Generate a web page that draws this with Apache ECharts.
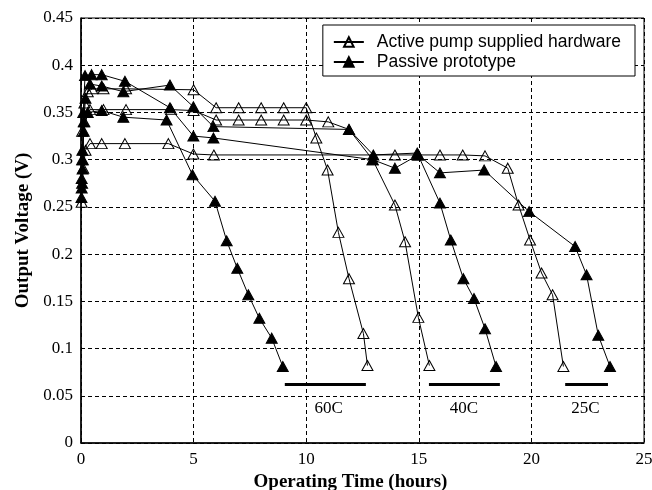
<!DOCTYPE html>
<html>
<head>
<meta charset="utf-8">
<script src="https://cdn.jsdelivr.net/npm/echarts@6/dist/echarts.min.js"></script>
<style>
  html, body { margin: 0; padding: 0; background: #fff; }
  #chart { width: 652px; height: 490px; }
</style>
</head>
<body>
<div id="chart"></div>
<script>
// [hours, volts]
const active60 = [[0.05,0.33],[0.15,0.36],[0.3,0.372],[0.5,0.375],[1,0.375],[2,0.375],[5,0.374],[6,0.355],[7,0.355],[8,0.355],[9,0.355],[10,0.355],[10.45,0.323],[10.95,0.289],[11.43,0.223],[11.9,0.174],[12.54,0.116],[12.72,0.082]];
const active40 = [[0.05,0.3],[0.15,0.34],[0.4,0.353],[1,0.353],[2,0.353],[4,0.353],[5,0.352],[6,0.342],[7,0.342],[8,0.342],[9,0.342],[10,0.342],[10.98,0.340],[11.9,0.332],[12.95,0.300],[13.94,0.252],[14.39,0.213],[14.98,0.133],[15.47,0.082]];
const active25 = [[0.03,0.255],[0.1,0.291],[0.2,0.31],[0.4,0.317],[0.92,0.317],[1.95,0.317],[3.88,0.317],[4.99,0.306],[5.9,0.305],[13.94,0.305],[14.95,0.305],[15.94,0.305],[16.95,0.305],[17.94,0.304],[18.95,0.291],[19.43,0.252],[19.94,0.215],[20.45,0.180],[20.94,0.157],[21.42,0.081]];

const passive60 = [[0.02,0.26],[0.05,0.275],[0.08,0.3],[0.12,0.33],[0.3,0.35],[0.92,0.352],[1.88,0.345],[3.8,0.342],[4.95,0.284],[5.95,0.256],[6.47,0.214],[6.94,0.185],[7.43,0.157],[7.92,0.132],[8.47,0.111],[8.96,0.081]];
const passive40 = [[0.03,0.27],[0.07,0.29],[0.12,0.34],[0.2,0.365],[0.4,0.38],[0.92,0.378],[1.88,0.372],[3.95,0.379],[4.99,0.356],[5.88,0.335],[11.9,0.332],[12.98,0.305],[14.93,0.307],[15.94,0.254],[16.42,0.215],[16.98,0.174],[17.45,0.153],[17.94,0.121],[18.43,0.081]];
const passive25 = [[0.03,0.28],[0.06,0.31],[0.1,0.35],[0.18,0.389],[0.47,0.39],[0.92,0.39],[1.95,0.383],[3.95,0.355],[4.99,0.325],[5.88,0.323],[12.95,0.300],[13.94,0.291],[14.98,0.305],[15.94,0.286],[17.9,0.289],[19.9,0.245],[21.94,0.208],[22.45,0.178],[22.97,0.114],[23.49,0.081]];

// temperature bars under the curves: [from, to] hours, and the label under each
const tempBars = [[9.05,12.65],[15.45,18.6],[21.5,23.4]];
const tempLabels = [[11.0,0.037,'60C'],[17.0,0.037,'40C'],[22.4,0.037,'25C']];
const barLevel = 0.062;

const ACTIVE = 'Active pump supplied hardware';
const PASSIVE = 'Passive prototype';
const serif = 'Liberation Serif';

const myChart = echarts.init(document.getElementById('chart'));

function mkSeries(name, data, filled) {
  return {
    name: name,
    type: 'line',
    data: data,
    symbol: 'triangle',
    symbolSize: [11, 10],
    showAllSymbol: true,
    z: filled ? 3 : 4,
    lineStyle: { color: '#000', width: 1 },
    itemStyle: filled
      ? { color: '#000', borderColor: '#000', borderWidth: 1 }
      : { color: 'rgba(255,255,255,0)', borderColor: '#000', borderWidth: 1 },
    emphasis: { disabled: true }
  };
}

const option = {
  animation: false,
  backgroundColor: '#fff',
  grid: {
    left: 81, right: 8, top: 18, bottom: 47,
    outerBoundsMode: 'none',
    show: true, borderColor: '#000', borderWidth: 1
  },
  legend: {
    data: [ACTIVE, PASSIVE],
    orient: 'vertical',
    right: 17,
    top: 25,
    padding: [8, 14, 5, 10],
    itemGap: 2,
    itemWidth: 30,
    itemHeight: 12,
    borderColor: '#000',
    borderWidth: 1,
    backgroundColor: '#fff',
    textStyle: { fontFamily: 'Liberation Sans', fontSize: 17.5, color: '#000', padding: [0, 0, 0, 8] }
  },
  xAxis: {
    type: 'value',
    min: 0, max: 25, interval: 5,
    name: 'Operating Time (hours)',
    nameLocation: 'middle',
    nameGap: 26,
    nameTextStyle: { fontFamily: serif, fontWeight: 'bold', fontSize: 19, color: '#000', padding: [0, 24, 0, 0] },
    axisLine: { lineStyle: { color: '#000', width: 1.5 } },
    axisTick: { show: false },
    axisLabel: { fontFamily: serif, fontSize: 17, color: '#000', margin: 8 },
    splitLine: { show: true, lineStyle: { color: '#000', type: [4, 3], width: 1 } }
  },
  yAxis: {
    type: 'value',
    min: 0, max: 0.45, interval: 0.05,
    name: 'Output Voltage (V)',
    nameLocation: 'middle',
    nameGap: 48,
    nameTextStyle: { fontFamily: serif, fontWeight: 'bold', fontSize: 19, color: '#000' },
    axisLine: { show: true, lineStyle: { color: '#000', width: 1.5 } },
    axisTick: { show: false },
    axisLabel: { fontFamily: serif, fontSize: 17, color: '#000', margin: 8 },
    splitLine: { show: true, lineStyle: { color: '#000', type: [4, 3], width: 1 } }
  },
  series: [
    mkSeries(PASSIVE, passive60, true),
    mkSeries(PASSIVE, passive40, true),
    mkSeries(PASSIVE, passive25, true),
    mkSeries(ACTIVE, active60, false),
    mkSeries(ACTIVE, active40, false),
    mkSeries(ACTIVE, active25, false),
    {
      name: 'temps',
      type: 'scatter',
      data: tempLabels,
      symbolSize: 0,
      silent: true,
      itemStyle: { opacity: 1, color: '#000' },
      label: {
        show: true,
        position: 'inside',
        formatter: p => p.value[2],
        fontFamily: serif, fontSize: 17, color: '#000', opacity: 1
      },
      markLine: {
        silent: true,
        symbol: ['none', 'none'],
        label: { show: false },
        lineStyle: { color: '#000', width: 3, type: 'solid', opacity: 1 },
        data: tempBars.map(b => [{ coord: [b[0], barLevel] }, { coord: [b[1], barLevel] }])
      }
    }
  ]
};

myChart.setOption(option);
</script>
</body>
</html>
